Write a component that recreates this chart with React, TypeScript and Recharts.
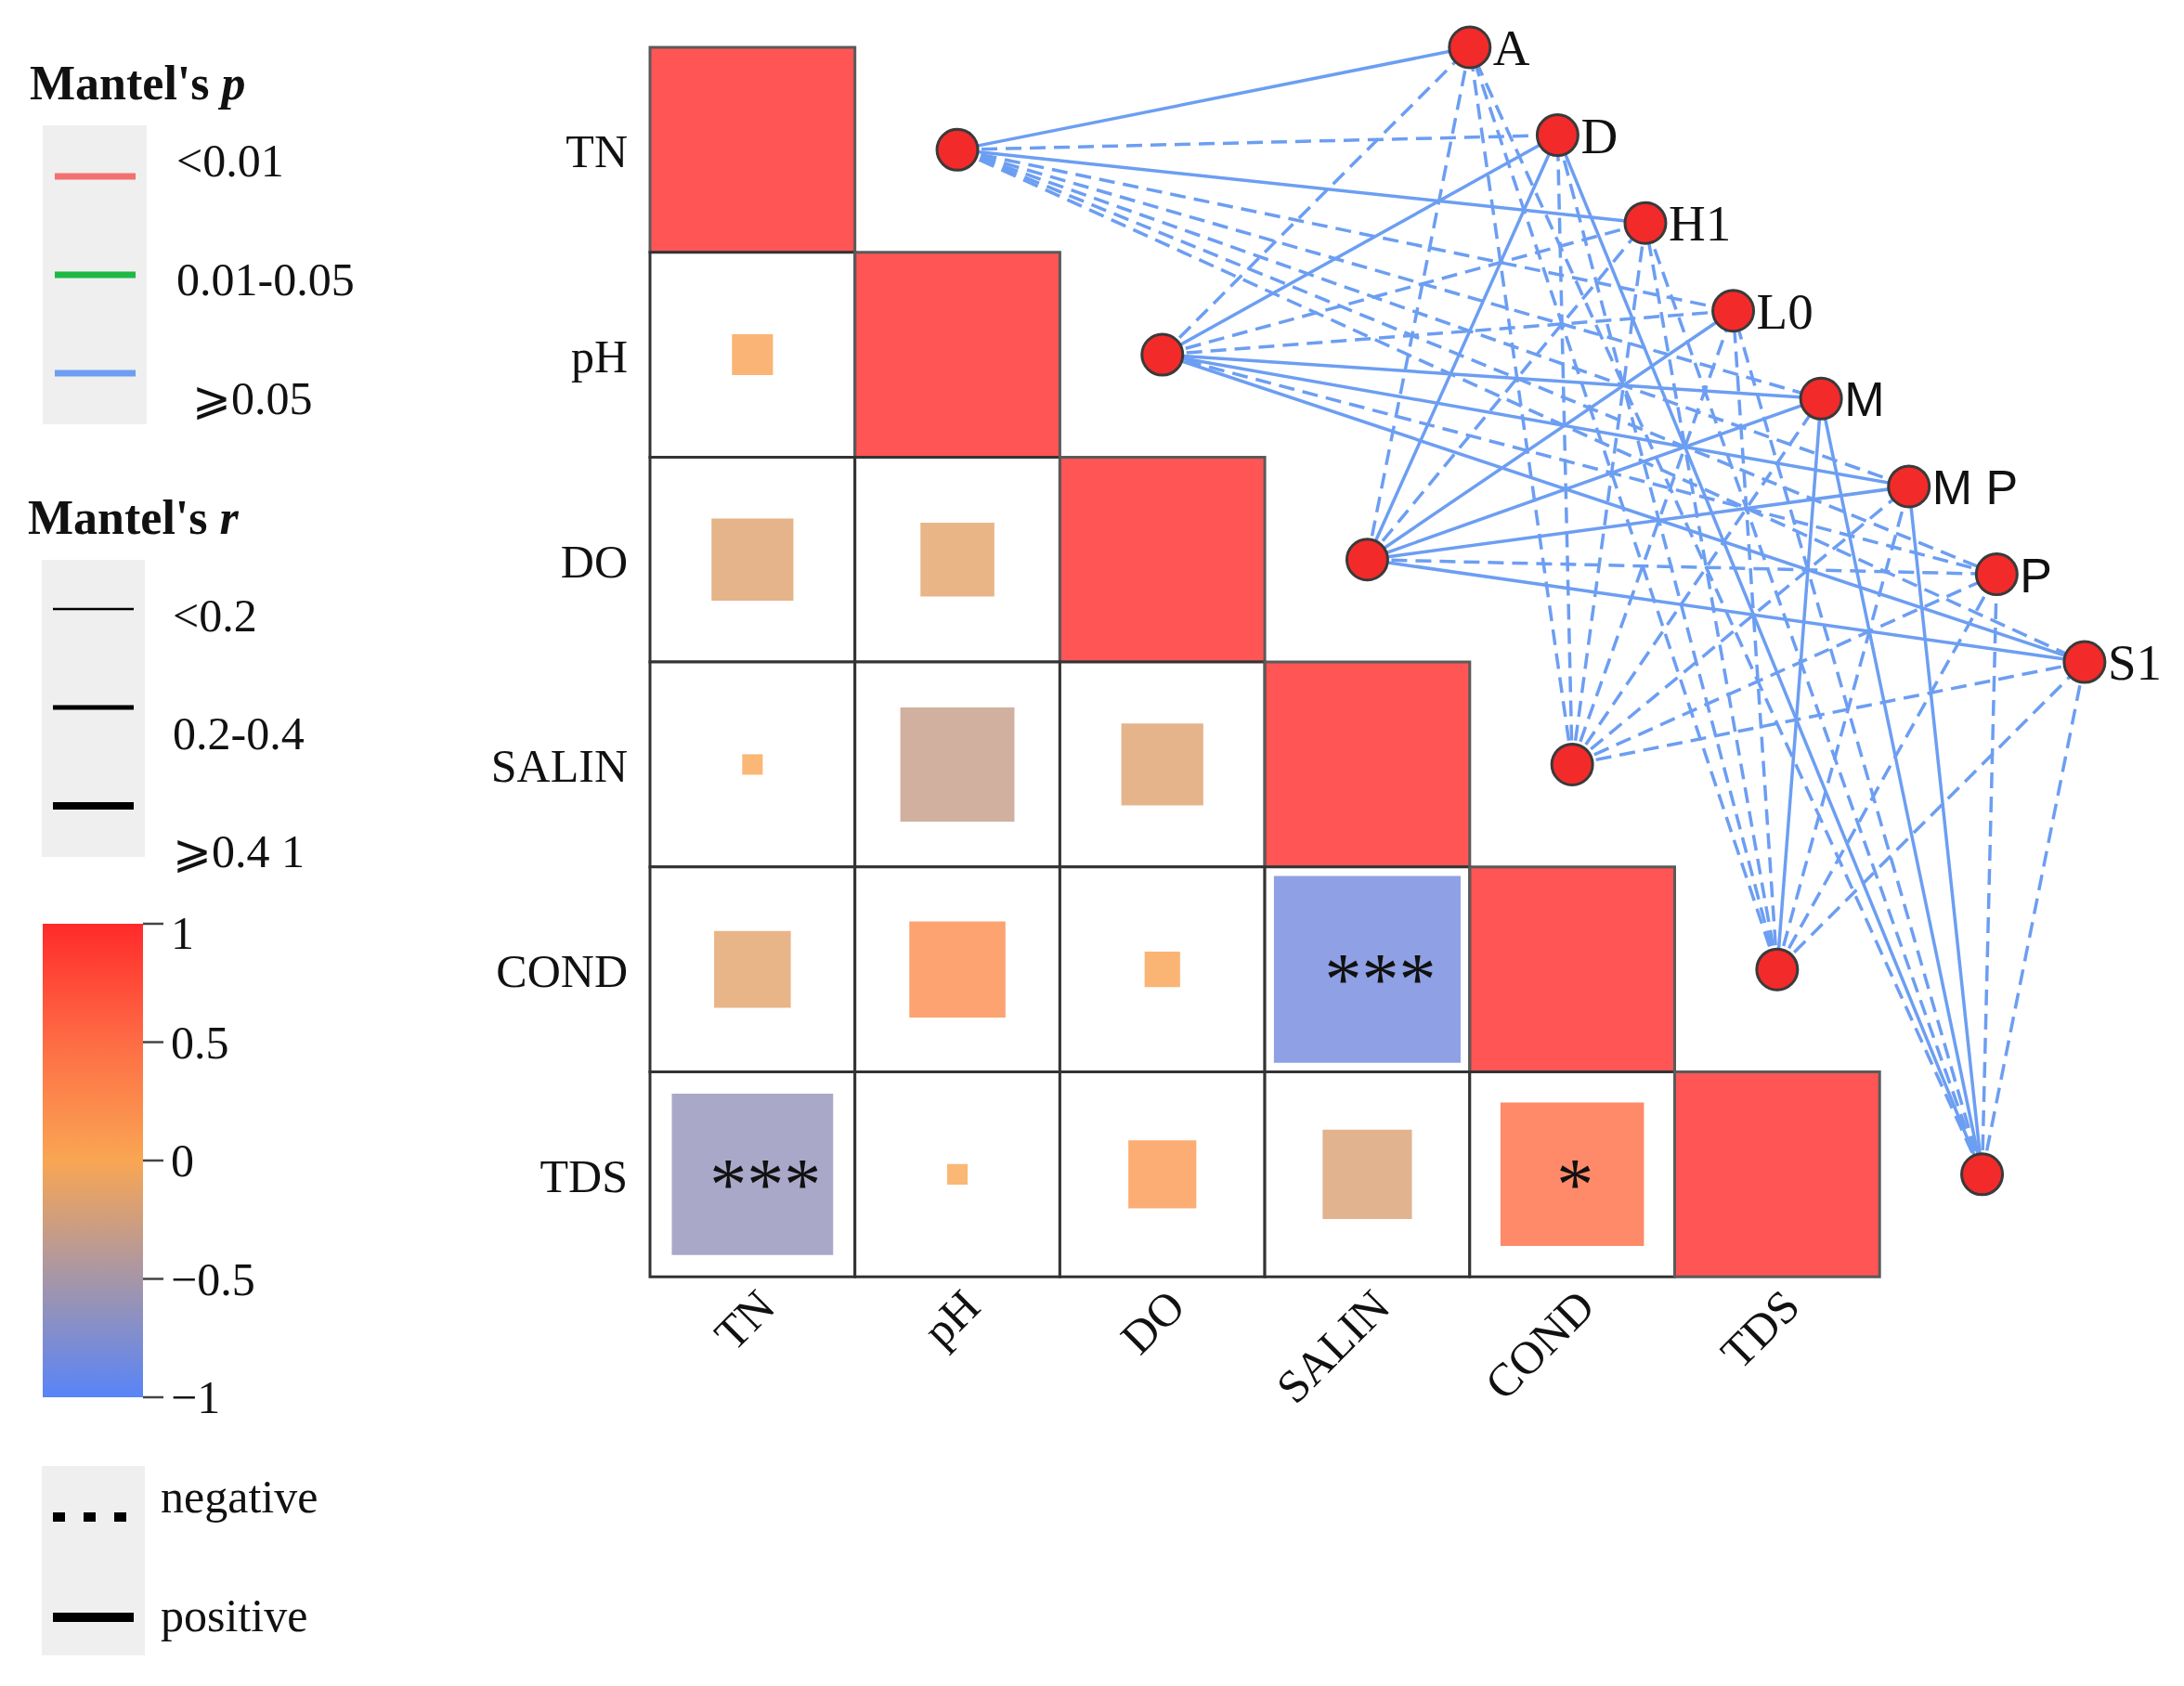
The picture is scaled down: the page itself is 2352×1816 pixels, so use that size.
import React from 'react'
import {
  ScatterChart,
  Scatter,
  XAxis,
  YAxis,
  ReferenceArea,
  ReferenceLine,
} from 'recharts'

const VARS = ['TN', 'pH', 'DO', 'SALIN', 'COND', 'TDS']

// correlation r, lower triangle: row variable vs. the columns before it
const R_PH = [0.04]
const R_DO = [-0.16, -0.13]
const R_SALIN = [0.01, -0.31, -0.16]
const R_COND = [-0.14, 0.22, 0.03, -0.83]
const R_TDS = [-0.62, 0.01, 0.11, -0.19, 0.49]
const R_ROWS = [[], R_PH, R_DO, R_SALIN, R_COND, R_TDS]

const STARS_COND = ['', '', '', '***']
const STARS_TDS = ['***', '', '', '', '*']
const STAR_ROWS = [[], [], [], [], STARS_COND, STARS_TDS]

const SPECIES = ['A', 'D', 'H1', 'L0', 'M', 'M P', 'P', 'S1']
const SANS_LABELS = ['M', 'M P', 'P']

// Mantel links env -> species: 1 positive (solid), -1 negative (dashed). all p >= 0.05, r < 0.2
const LINK_TN = [1, -1, 1, -1, -1, -1, -1, -1]
const LINK_PH = [-1, 1, -1, -1, 1, 1, -1, 1]
const LINK_DO = [-1, 1, -1, 1, 1, 1, -1, 1]
const LINK_SALIN = [-1, -1, -1, -1, -1, -1, -1, -1]
const LINK_COND = [-1, -1, -1, -1, 1, -1, -1, -1]
const LINK_TDS = [-1, 1, -1, -1, 1, 1, -1, -1]
const LINKS = [LINK_TN, LINK_PH, LINK_DO, LINK_SALIN, LINK_COND, LINK_TDS]

const P_LEGEND = [
  { label: '<0.01', color: '#F47070' },
  { label: '0.01-0.05', color: '#1DB845' },
  { label: '\u2A7E0.05', color: '#6E9EF0' },
]
const R_LEGEND = [
  { label: '<0.2', width: 2.5 },
  { label: '0.2-0.4', width: 5 },
  { label: '\u2A7E0.4 1', width: 8 },
]
const CBAR_TICKS = ['1', '0.5', '0', '\u22120.5', '\u22121']

// colour bar stops (value -> rgb)
const STOPS: [number, number[]][] = [
  [-1, [88, 132, 248]],
  [-0.5, [166, 150, 168]],
  [0, [249, 166, 83]],
  [0.5, [254, 108, 69]],
  [1, [255, 42, 42]],
]

const SERIF = "'Liberation Serif', 'Times New Roman', serif"
const SANS = "'Liberation Sans', Arial, sans-serif"
const LINK_COLOR = '#6C9EF2'

function colorFor(r: number) {
  for (let i = 0; i < STOPS.length - 1; i++) {
    const [v0, c0] = STOPS[i]
    const [v1, c1] = STOPS[i + 1]
    if (r >= v0 && r <= v1) {
      const t = (r - v0) / (v1 - v0)
      const c = c0.map((a, k) => Math.round(a + (c1[k] - a) * t))
      return `rgb(${c[0]},${c[1]},${c[2]})`
    }
  }
  return 'rgb(255,42,42)'
}

const TICKS = VARS.map((_, i) => i + 0.5)

const envNodes = VARS.map((v, i) => ({ x: i + 1.5, y: i + 0.5, label: '' }))
const speciesNodes = SPECIES.map((s, k) => ({ x: 4 + (k * 3) / 7, y: (k * 3) / 7, label: s }))

const cells: { i: number; j: number; r: number }[] = []
VARS.forEach((_, i) => {
  for (let j = 0; j <= i; j++) cells.push({ i, j, r: i === j ? 1 : R_ROWS[i][j] })
})

const starPoints: { x: number; y: number; label: string }[] = []
STAR_ROWS.forEach((row, i) =>
  row.forEach((s, j) => {
    if (s) starPoints.push({ x: j + 0.5, y: i + 0.5, label: s })
  })
)

const NodeShape = (props: any) => {
  const { cx, cy, payload } = props
  const sans = SANS_LABELS.includes(payload.label)
  return (
    <g>
      <circle cx={cx} cy={cy} r={22} fill="#F22A2A" stroke="#3A3A3A" strokeWidth={3} />
      {payload.label && (
        <text
          x={cx + 25}
          y={cy + 19}
          fontSize={sans ? 52 : 55}
          fontFamily={sans ? SANS : SERIF}
          fill="#111"
        >
          {payload.label}
        </text>
      )}
    </g>
  )
}

const StarShape = (props: any) => {
  const { cx, cy, payload } = props
  const dx = payload.label.length > 1 ? 14 : 3
  return (
    <text x={cx + dx} y={cy + 38} fontSize={80} fontFamily={SERIF} textAnchor="middle" fill="#111">
      {payload.label}
    </text>
  )
}

const RowTick = (props: any) => {
  const { x, y, payload } = props
  return (
    <text x={x - 16} y={y + 19} textAnchor="end" fontSize={50} fontFamily={SERIF} fill="#111">
      {VARS[Math.floor(payload.value)]}
    </text>
  )
}

const ColTick = (props: any) => {
  const { x, y, payload } = props
  const ax = x + 27
  const ay = y + 27
  return (
    <text
      x={ax}
      y={ay}
      transform={`rotate(-45 ${ax} ${ay})`}
      textAnchor="end"
      fontSize={50}
      fontFamily={SERIF}
      fill="#111"
    >
      {VARS[Math.floor(payload.value)]}
    </text>
  )
}

function Legend() {
  return (
    <svg
      width={420}
      height={1816}
      style={{ position: 'absolute', left: 0, top: 0 }}
      fontFamily={SERIF}
    >
      <defs>
        <linearGradient id="cbar" x1="0" y1="0" x2="0" y2="1">
          {[...STOPS].reverse().map(([v]) => (
            <stop key={v} offset={`${((1 - v) / 2) * 100}%`} stopColor={colorFor(v)} />
          ))}
        </linearGradient>
      </defs>

      {/* Mantel's p */}
      <text x={32} y={107} fontSize={52} fontWeight="bold" fill="#111">
        Mantel's <tspan fontStyle="italic">p</tspan>
      </text>
      <rect x={46} y={135} width={112} height={322} fill="#EFEFEF" />
      {P_LEGEND.map((d, i) => (
        <g key={d.label}>
          <line x1={59} x2={146} y1={190 + i * 106} y2={190 + i * 106} stroke={d.color} strokeWidth={7} />
          <text x={i === 2 ? 207 : 190} y={[190, 318, 446][i]} fontSize={50} fill="#111">
            {d.label}
          </text>
        </g>
      ))}

      {/* Mantel's r */}
      <text x={30} y={575} fontSize={52} fontWeight="bold" fill="#111">
        Mantel's <tspan fontStyle="italic">r</tspan>
      </text>
      <rect x={45} y={603} width={111} height={320} fill="#EFEFEF" />
      {R_LEGEND.map((d, i) => (
        <g key={d.label}>
          <line x1={57} x2={144} y1={656 + i * 106} y2={656 + i * 106} stroke="#000" strokeWidth={d.width} />
          <text x={186} y={680 + i * 127} fontSize={50} fill="#111">
            {d.label}
          </text>
        </g>
      ))}

      {/* colour bar */}
      <rect x={46} y={995} width={108} height={510} fill="url(#cbar)" />
      {CBAR_TICKS.map((t, i) => {
        const y = 995 + i * 127.5
        return (
          <g key={t}>
            <line x1={154} x2={176} y1={y} y2={y} stroke="#444" strokeWidth={2.5} />
            <text x={184} y={y + (i === 0 ? 27 : 17)} fontSize={50} fill="#111">
              {t}
            </text>
          </g>
        )
      })}

      {/* sign */}
      <rect x={45} y={1579} width={111} height={204} fill="#EFEFEF" />
      <line x1={57} x2={144} y1={1634} y2={1634} stroke="#000" strokeWidth={10} strokeDasharray="13 20" />
      <text x={173} y={1629} fontSize={50} fill="#111">negative</text>
      <line x1={57} x2={144} y1={1742} y2={1742} stroke="#000" strokeWidth={10} />
      <text x={173} y={1757} fontSize={50} fill="#111">positive</text>
    </svg>
  )
}

export default function App() {
  return (
    <div style={{ position: 'absolute', left: 0, top: 0, width: 2352, height: 1816, background: '#fff' }}>
      <ScatterChart
        width={2352}
        height={1816}
        margin={{ top: 51, right: 18.82, bottom: 290.8, left: 500 }}
      >
        <XAxis
          type="number"
          dataKey="x"
          domain={[0, 7.4]}
          ticks={TICKS}
          interval={0}
          tick={ColTick}
          axisLine={false}
          tickLine={false}
          height={150}
        />
        <YAxis
          type="number"
          dataKey="y"
          domain={[0, 6]}
          reversed
          ticks={TICKS}
          interval={0}
          tick={RowTick}
          axisLine={false}
          tickLine={false}
          width={200}
        />

        {cells.map((c) => (
          <ReferenceArea
            key={`cell-${c.i}-${c.j}`}
            x1={c.j}
            x2={c.j + 1}
            y1={c.i}
            y2={c.i + 1}
            fill={c.i === c.j ? colorFor(1) : '#fff'}
            fillOpacity={c.i === c.j ? 0.8 : 1}
            stroke={c.i === c.j ? '#5A5A5A' : '#333'}
            strokeWidth={3}
          />
        ))}
        {cells
          .filter((c) => c.i !== c.j)
          .map((c) => {
            const h = Math.sqrt(Math.abs(c.r)) / 2
            return (
              <ReferenceArea
                key={`sq-${c.i}-${c.j}`}
                x1={c.j + 0.5 - h}
                x2={c.j + 0.5 + h}
                y1={c.i + 0.5 - h}
                y2={c.i + 0.5 + h}
                fill={colorFor(c.r)}
                fillOpacity={0.8}
                stroke="none"
              />
            )
          })}

        {LINKS.map((row, i) =>
          row.map((sign, k) => (
            <ReferenceLine
              key={`link-${i}-${k}`}
              segment={[
                { x: envNodes[i].x, y: envNodes[i].y },
                { x: speciesNodes[k].x, y: speciesNodes[k].y },
              ]}
              stroke={LINK_COLOR}
              strokeWidth={3.5}
              strokeDasharray={sign < 0 ? '17 9' : undefined}
              ifOverflow="visible"
            />
          ))
        )}

        <Scatter data={starPoints} shape={StarShape} isAnimationActive={false} />
        <Scatter data={[...envNodes, ...speciesNodes]} shape={NodeShape} isAnimationActive={false} />
      </ScatterChart>
      <Legend />
    </div>
  )
}
